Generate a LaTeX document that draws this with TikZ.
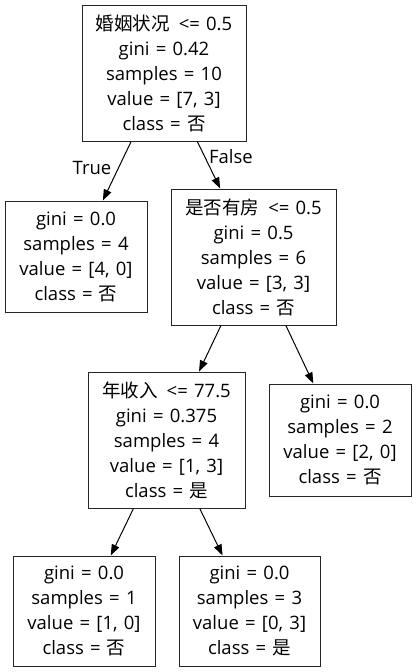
\documentclass[tikz,border=0pt]{standalone}
\usepackage{fontspec}
\setmainfont[WordSpace=1.3]{Open Sans}
\newfontfamily\cjk{Noto Sans CJK SC}
\usetikzlibrary{arrows.meta}
\begin{document}
\begin{tikzpicture}[x=1pt,y=-1pt,
  box/.style={draw=black!85,line width=1pt,rectangle,align=center,inner sep=0pt,
    font=\fontsize{18.5}{25}\selectfont},
  edge/.style={line width=1pt,-{Triangle[length=11pt,width=8pt]}},
  lab/.style={font=\fontsize{18.5}{25}\selectfont,inner sep=0pt}]
\useasboundingbox (0,0) rectangle (416,672);
\fill[white] (0,0) rectangle (416,672);
\node[box,minimum width=164pt,minimum height=136pt] (root) at (164,73)
  {{\cjk 婚姻状况}\hspace{9pt}<= 0.5\\gini = 0.42\\samples = 10\\value = [7, 3]\\class = {\cjk 否}};
\node[box,minimum width=142pt,minimum height=111pt] (l1) at (76,256.5)
  {gini = 0.0\\samples = 4\\value = [4, 0]\\class = {\cjk 否}};
\node[box,minimum width=165pt,minimum height=136pt] (r1) at (253.5,257)
  {{\cjk 是否有房}\hspace{9pt}<= 0.5\\gini = 0.5\\samples = 6\\value = [3, 3]\\class = {\cjk 否}};
\node[box,minimum width=157pt,minimum height=136pt] (m) at (166.5,440)
  {{\cjk 年收入}\hspace{9pt}<= 77.5\\gini = 0.375\\samples = 4\\value = [1, 3]\\class = {\cjk 是}};
\node[box,minimum width=142pt,minimum height=112pt] (rl) at (340,440)
  {gini = 0.0\\samples = 2\\value = [2, 0]\\class = {\cjk 否}};
\node[box,minimum width=142pt,minimum height=110pt] (ll) at (84,611)
  {gini = 0.0\\samples = 1\\value = [1, 0]\\class = {\cjk 否}};
\node[box,minimum width=141pt,minimum height=110pt] (lr) at (249.5,611)
  {gini = 0.0\\samples = 3\\value = [0, 3]\\class = {\cjk 是}};
\draw[edge] (root) -- (l1);
\draw[edge] (root) -- (r1);
\draw[edge] (r1) -- (m);
\draw[edge] (r1) -- (rl);
\draw[edge] (m) -- (ll);
\draw[edge] (m) -- (lr);
\node[lab] (t) at (92,168) {True};
\node[lab] (f) at (231,157) {False};
\end{tikzpicture}
\end{document}
